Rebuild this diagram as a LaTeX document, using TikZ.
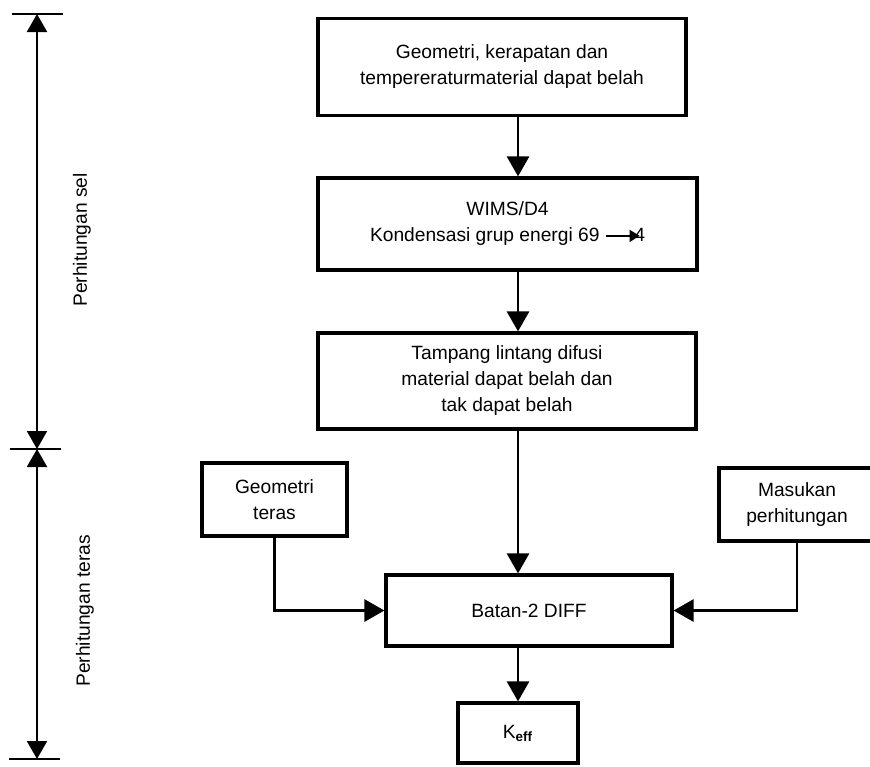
\documentclass[tikz,border=0pt]{standalone}
\usepackage{fontspec}
\setmainfont{Liberation Sans}
\usetikzlibrary{arrows.meta,positioning}

\begin{document}
\begin{tikzpicture}[x=0.5pt,y=-0.5pt,
    font=\fontsize{9.6}{13}\selectfont,
    box/.style={draw,line width=1.6pt,align=center,inner sep=0pt},
    flow/.style={line width=1.4pt,-{Triangle[length=10pt,width=11pt]}},
    dim/.style={line width=1pt,{Triangle[length=9pt,width=10pt]}-{Triangle[length=9pt,width=10pt]}},
    tick/.style={line width=1pt}]
    \useasboundingbox (0,0) rectangle (870,766);

    \node[box,minimum width=184pt,minimum height=48.5pt] (geomat) at (502,67)
        {Geometri, kerapatan dan\\tempereraturmaterial dapat belah};
    \node[box,minimum width=189.5pt,minimum height=46pt] (wims) at (507.5,224)
        {WIMS/D4\\Kondensasi grup energi 69 \tikz[baseline=-0.6ex]\draw[line width=0.7pt,-{Triangle[length=5pt,width=6pt]}] (0pt,0pt) -- (17pt,0pt);\kern-3pt4};
    \node[box,minimum width=189pt,minimum height=48pt] (tampang) at (507,381)
        {Tampang lintang difusi\\material dapat belah dan\\tak dapat belah};
    \node[box,minimum width=143pt,minimum height=35.5pt] (batan) at (529,610.5) {Batan-2 DIFF};
    \node[box,minimum width=72.5pt,minimum height=36.5pt] (geoteras) at (274.5,499.5) {Geometri\\teras};
    \node[box,minimum width=78pt,minimum height=36.5pt] (masukan) at (797,504.5) {Masukan\\perhitungan};
    \node[box,minimum width=60pt,minimum height=30pt] (keff) at (518,733) {K\textsubscript{\textbf{eff}}};

    \draw[flow] (geomat.south -| keff) -- (wims.north -| keff);
    \draw[flow] (wims.south -| keff) -- (tampang.north -| keff);
    \draw[flow] (tampang.south -| keff) -- (batan.north -| keff);
    \draw[flow] (batan.south -| keff) -- (keff);
    \draw[flow] (geoteras.south) |- (batan.west);
    \draw[flow] (masukan.south) |- (batan.east);

    \coordinate (dtop) at (37,14);
    \coordinate (dmid) at (37,449);
    \coordinate (dbot) at (37,759);
    \draw[tick] ([xshift=-12.5pt]dtop) -- ([xshift=13pt]dtop);
    \draw[tick] ([xshift=-13.5pt]dmid) -- ([xshift=12pt]dmid);
    \draw[tick] ([xshift=-14pt]dbot) -- ([xshift=11.5pt]dbot);
    \draw[dim] (dtop) -- (dmid);
    \draw[dim] (dmid) -- (dbot);
    \node[rotate=90] (sel) at (82,240) {Perhitungan sel};
    \node[rotate=90] (teras) at (85,611) {Perhitungan teras};
\end{tikzpicture}
\end{document}
